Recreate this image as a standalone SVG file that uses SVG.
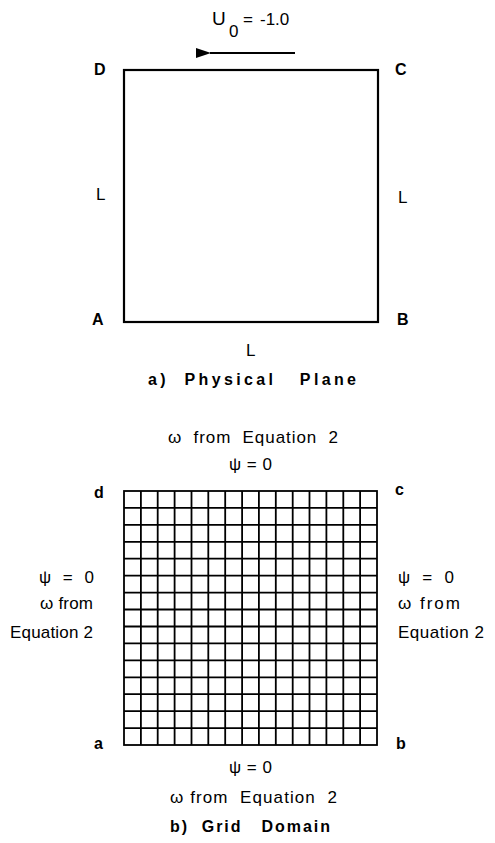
<svg xmlns="http://www.w3.org/2000/svg" width="495" height="843" viewBox="0 0 495 843" xml:space="preserve">
<style>
text{font-family:"Liberation Sans",Arial,sans-serif;fill:#000;white-space:pre}
.t{font-size:17px}
.c{font-size:16px;font-weight:bold}
.h{font-size:16px;font-weight:bold}
.box{fill:none;stroke:#000;stroke-width:2.2}
.grid{stroke:#000;stroke-width:1.8;fill:none}
</style>
<defs>
<marker id="ah" markerWidth="15" markerHeight="10" refX="1" refY="5" orient="auto" markerUnits="userSpaceOnUse">
<path d="M15,0 L0,5 L15,10 Z" fill="#000"/>
</marker>
</defs>
<g id="physical-plane">
<rect class="box" x="124" y="70" width="254" height="252"/>
</g>
<g id="labels-a">
<text x="212" y="25" font-size="19">U</text>
<text class="t" x="229" y="37">0</text>
<text class="t" x="243" y="25">=</text>
<text class="t" x="260" y="25">-1.0</text>
<text class="c" x="94" y="75">D</text>
<text class="c" x="395" y="75">C</text>
<text class="c" x="92" y="325">A</text>
<text class="c" x="397" y="325">B</text>
<text class="t" x="96" y="200">L</text>
<text class="t" x="398" y="203">L</text>
<text class="t" x="246" y="356">L</text>
<text class="h" x="148" y="385" textLength="208" lengthAdjust="spacing">a)  Physical   Plane</text>
</g>
<g id="connectors">
<line x1="295" y1="53" x2="210" y2="53" stroke="#000" stroke-width="2" marker-end="url(#ah)"/>
</g>
<g id="grid-domain">
<rect class="grid" x="124" y="491" width="253" height="254" stroke-width="2.2"/>
<path class="grid" d="M140.9,491V745M157.7,491V745M174.6,491V745M191.5,491V745M208.3,491V745M225.2,491V745M242.1,491V745M258.9,491V745M275.8,491V745M292.7,491V745M309.5,491V745M326.4,491V745M343.3,491V745M360.1,491V745
M124,507.9H377M124,524.9H377M124,541.8H377M124,558.7H377M124,575.7H377M124,592.6H377M124,609.5H377M124,626.5H377M124,643.4H377M124,660.3H377M124,677.3H377M124,694.2H377M124,711.1H377M124,728.1H377"/>
</g>
<g id="labels-b">
<text class="t" x="168" y="443" textLength="170" lengthAdjust="spacing">ω  from  Equation  2</text>
<text class="t" x="229" y="470" textLength="43" lengthAdjust="spacing">ψ = 0</text>
<text class="c" x="94" y="498">d</text>
<text class="c" x="395" y="495">c</text>
<text class="c" x="94" y="749">a</text>
<text class="c" x="396" y="749">b</text>
<text class="t" x="39" y="583" textLength="55" lengthAdjust="spacing">ψ = 0</text>
<text class="t" x="40" y="609" textLength="53" lengthAdjust="spacing">ω from</text>
<text class="t" x="10" y="638" textLength="83" lengthAdjust="spacing">Equation 2</text>
<text class="t" x="398" y="583" textLength="56" lengthAdjust="spacing">ψ = 0</text>
<text class="t" x="398" y="609" textLength="62" lengthAdjust="spacing">ω from</text>
<text class="t" x="398" y="638" textLength="86" lengthAdjust="spacing">Equation 2</text>
<text class="t" x="229" y="773" textLength="43" lengthAdjust="spacing">ψ = 0</text>
<text class="t" x="170" y="803" textLength="167" lengthAdjust="spacing">ω from  Equation  2</text>
<text class="h" x="170" y="832" textLength="160" lengthAdjust="spacing">b)  Grid   Domain</text>
</g>
</svg>
